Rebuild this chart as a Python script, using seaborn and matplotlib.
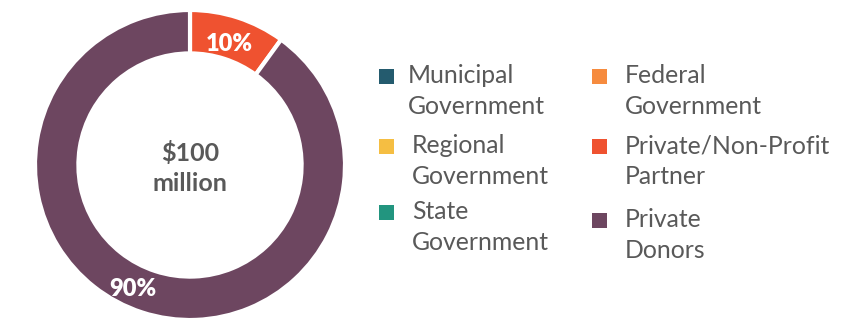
import matplotlib
matplotlib.use("Agg")
import matplotlib.pyplot as plt
from matplotlib.patches import Rectangle
import seaborn as sns

sns.set_theme(style="white")
plt.rcParams["font.family"] = ["Lato", "DejaVu Sans"]

# Funding sources and their shares (percent of total)
sources = ["Municipal\nGovernment", "Regional\nGovernment", "State\nGovernment",
           "Federal\nGovernment", "Private/Non-Profit\nPartner", "Private\nDonors"]
shares = [0, 0, 0, 0, 10, 90]
colors = ["#245B6E", "#F5BE42", "#22957F", "#F68B3E", "#EF5230", "#6D4660"]
total_label = "$100\nmillion"

TEXT = "#595959"
W, H = 859, 323
fig = plt.figure(figsize=(W / 100, H / 100), dpi=100)

# Donut: only non-zero sources get a wedge; drawn clockwise from 12 o'clock
cx, cy, r = 190, 165, 155
ax = fig.add_axes([(cx - r) / W, (H - cy - r) / H, 2 * r / W, 2 * r / H])
drawn = [(s, v, c) for s, v, c in zip(sources, shares, colors) if v > 0]
wedges, _, pct = ax.pie(
    [d[1] for d in drawn], colors=[d[2] for d in drawn],
    startangle=90, counterclock=False, radius=1.0,
    autopct=lambda p: f"{p:.0f}%", pctdistance=0.82,
    wedgeprops=dict(width=0.28, edgecolor="white", linewidth=3),
    textprops=dict(color="white", fontsize=17, fontweight="heavy"),
)
# nudge the large slice label along the ring
pct[1].set_position((-0.37, -0.80))
ax.set_xlim(-1, 1)
ax.set_ylim(-1, 1)
ax.set_aspect("equal")
ax.axis("off")
ax.text(0, -0.02, total_label, ha="center", va="center", color=TEXT,
        fontsize=18, fontweight="bold", linespacing=1.35)

# Legend: two columns of colored squares with wrapped labels
# (square left x, text left x, first-line baseline y) in pixels from the top
sq = 15
rows = [(379, 408, 83), (379, 412, 153), (379, 412, 219),
        (592, 625, 83), (592, 625, 153), (592, 625, 227)]
line_gap = 31.5
for (sx, tx, base), name, col in zip(rows, sources, colors):
    fig.patches.append(Rectangle((sx / W, (H - base - 1) / H), sq / W, sq / H,
                                 transform=fig.transFigure, facecolor=col,
                                 edgecolor="none"))
    for i, line in enumerate(name.split("\n")):
        fig.text(tx / W, (H - base - i * line_gap) / H, line, ha="left",
                 va="baseline", color=TEXT, fontsize=17.8)

fig.savefig("out.png", dpi=100)
